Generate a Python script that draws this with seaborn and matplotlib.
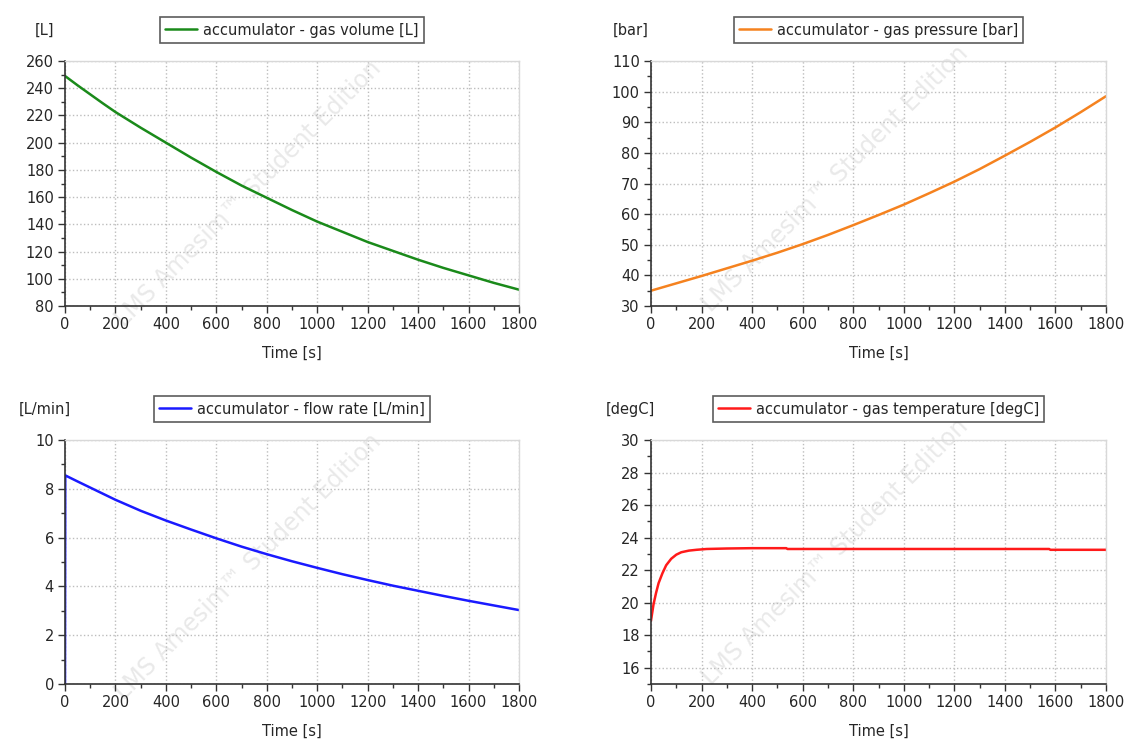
import numpy as np
import pandas as pd
import matplotlib
matplotlib.use("Agg")
import matplotlib.pyplot as plt
import seaborn as sns
from matplotlib.ticker import MultipleLocator

# Data (time in s)
t_main = [0, 50, 100, 150, 200, 300, 400, 500, 600, 700, 800, 900, 1000, 1100, 1200,
          1300, 1400, 1500, 1600, 1700, 1800]
gas_volume = [249, 242.1, 235.5, 228.9, 222.5, 211, 200, 189, 178.5, 168.5, 159.5,
              150.5, 142, 134.5, 127, 120.5, 114, 108, 102.5, 97, 92]
gas_pressure = [35, 36.2, 37.4, 38.6, 39.8, 42.3, 44.8, 47.4, 50.2, 53.2, 56.4, 59.7,
                63.1, 66.8, 70.6, 74.7, 79.1, 83.6, 88.3, 93.3, 98.5]

t_flow = [0, 1, 50, 100, 150, 200, 300, 400, 500, 600, 700, 800, 900, 1000, 1100,
          1200, 1300, 1400, 1500, 1600, 1700, 1800]
flow_rate = [0, 8.55, 8.3, 8.05, 7.8, 7.55, 7.1, 6.7, 6.33, 5.97, 5.63, 5.32, 5.03,
             4.76, 4.5, 4.26, 4.03, 3.82, 3.61, 3.41, 3.22, 3.03]

t_temp = [0, 10, 20, 30, 45, 60, 80, 100, 120, 150, 180, 220, 300, 400, 535,
          540, 1000, 1575, 1580, 1800]
gas_temp = [18.9, 19.9, 20.6, 21.2, 21.8, 22.3, 22.7, 22.95, 23.1, 23.2, 23.25,
            23.3, 23.33, 23.35, 23.35, 23.3, 23.3, 23.3, 23.25, 23.25]

sns.set_style("white")
plt.rcParams['font.family'] = ['DejaVu Sans']

fig = plt.figure(figsize=(11.29, 7.46), dpi=100)

# faint watermark, one per panel (drawn behind transparent axes)
for (x, y) in [(0.22, 0.74), (0.74, 0.76), (0.22, 0.24), (0.74, 0.26)]:
    fig.text(x, y, "LMS Amesim\u2122 Student Edition", rotation=45, fontsize=17,
             color="#e9e9e9", ha="center", va="center", zorder=-5)

W, H = 1129, 746
def box(x0, x1, ytop, ybot):
    return [x0 / W, 1 - ybot / H, (x1 - x0) / W, (ybot - ytop) / H]

panels = [
    (box(65, 519, 61, 306), t_main, gas_volume, "accumulator - gas volume [L]", "[L]",
     "#1a8a1a", (80, 260), 20, 10),
    (box(651, 1106, 61, 306), t_main, gas_pressure, "accumulator - gas pressure [bar]", "[bar]",
     "#f5821f", (30, 110), 10, 5),
    (box(65, 519, 440, 684), t_flow, flow_rate, "accumulator - flow rate [L/min]", "[L/min]",
     "#1a1aff", (0, 10), 2, 1),
    (box(651, 1106, 440, 684), t_temp, gas_temp, "accumulator - gas temperature [degC]", "[degC]",
     "#ff1a1a", (15, 30), 2, 1),
]

for rect, tx, vals, name, unit, color, ylim, ymaj, ymin in panels:
    ax = fig.add_axes(rect)
    ax.set_facecolor("none")
    df = pd.DataFrame({"Time [s]": tx, name: vals})
    sns.lineplot(data=df, x="Time [s]", y=name, ax=ax, color=color, lw=1.8,
                 estimator=None, sort=False, label=name)
    ax.set_xlim(0, 1800)
    ax.set_ylim(*ylim)
    ax.xaxis.set_major_locator(MultipleLocator(200))
    ax.xaxis.set_minor_locator(MultipleLocator(100))
    if unit == "[degC]":
        ax.set_yticks(np.arange(16, 31, 2))
    else:
        ax.yaxis.set_major_locator(MultipleLocator(ymaj))
    ax.yaxis.set_minor_locator(MultipleLocator(ymin))
    ax.grid(True, which="major", ls=":", color="#bdbdbd", lw=1.0)
    ax.tick_params(which="major", direction="out", length=5, width=1, color="#333333",
                   labelsize=10.5, pad=3, left=True, bottom=True)
    ax.tick_params(which="minor", direction="out", length=3, width=1, color="#333333",
                   left=True, bottom=True)
    for s in ["left", "bottom"]:
        ax.spines[s].set_color("#333333")
        ax.spines[s].set_linewidth(1.2)
    for s in ["top", "right"]:
        ax.spines[s].set_color("#d8d8d8")
        ax.spines[s].set_linewidth(1)
    ax.set_xlabel("Time [s]", fontsize=10.5, labelpad=10)
    ax.set_ylabel("")
    ax.text(-0.045, 1.125, unit, transform=ax.transAxes, ha="center", va="center",
            fontsize=10.5)
    leg = ax.legend(loc="lower center", bbox_to_anchor=(0.5, 1.075), fontsize=10.5,
                    frameon=True, fancybox=False, handlelength=2.2, handletextpad=0.4,
                    borderpad=0.35, borderaxespad=0)
    leg.get_frame().set_edgecolor("#333333")
    leg.get_frame().set_linewidth(1.2)

fig.savefig("out.png", dpi=100)
